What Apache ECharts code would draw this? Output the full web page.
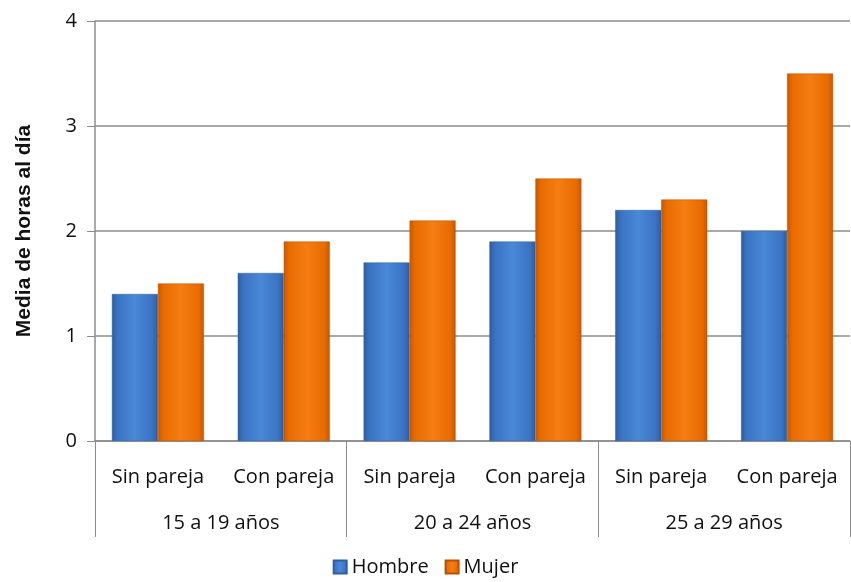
<!DOCTYPE html>
<html>
<head>
<meta charset="utf-8">
<script src="https://cdn.jsdelivr.net/npm/echarts@6/dist/echarts.min.js"></script>
<style>
  html, body { margin: 0; padding: 0; background: #fff; }
  #chart { width: 851px; height: 582px; }
</style>
</head>
<body>
<div id="chart"></div>
<script>
const categories = ['Sin pareja', 'Con pareja', 'Sin pareja', 'Con pareja', 'Sin pareja', 'Con pareja']
const groups = ['15 a 19 años', '20 a 24 años', '25 a 29 años']
const hombre = [1.4, 1.6, 1.7, 1.9, 2.2, 2.0]
const mujer = [1.5, 1.9, 2.1, 2.5, 2.3, 3.5]

const font = 'Open Sans'

// degradado horizontal para imitar el relieve de las barras
function barGradient(dark, mid, light) {
  return new echarts.graphic.LinearGradient(0, 0, 1, 0, [
    { offset: 0, color: dark },
    { offset: 0.12, color: mid },
    { offset: 0.5, color: light },
    { offset: 0.88, color: mid },
    { offset: 1, color: dark }
  ])
}

const chart = echarts.init(document.getElementById('chart'))
chart.setOption({
  animation: false,
  textStyle: { fontFamily: font },
  grid: { left: 95, right: 1, top: 21, bottom: 141 },
  legend: {
    bottom: 0,
    left: 'center',
    itemWidth: 13,
    itemHeight: 13,
    itemGap: 16,
    icon: 'rect',
    textStyle: { fontSize: 20, color: '#111', fontFamily: font },
    data: ['Hombre', 'Mujer']
  },
  xAxis: [
    {
      type: 'category',
      data: categories,
      axisLine: { lineStyle: { color: '#8c8c8c', width: 1.5 } },
      axisTick: { show: false },
      axisLabel: { fontSize: 20, color: '#111', margin: 26, interval: 0 }
    },
    {
      type: 'category',
      data: groups,
      position: 'bottom',
      axisLine: { show: false },
      axisTick: {
        show: true,
        length: 96,
        lineStyle: { color: '#8c8c8c' },
        interval: 0
      },
      axisLabel: { fontSize: 20, color: '#111', margin: 72 }
    }
  ],
  yAxis: {
    type: 'value',
    min: 0,
    max: 4,
    interval: 1,
    name: 'Media de horas al día',
    nameLocation: 'middle',
    nameGap: 60,
    nameTextStyle: { fontSize: 21, fontWeight: 'bold', color: '#111', fontFamily: 'Liberation Sans' },
    axisLine: { show: true, lineStyle: { color: '#8c8c8c', width: 1.5 } },
    axisTick: { show: true, length: 8, lineStyle: { color: '#8c8c8c' } },
    axisLabel: { fontSize: 20, color: '#111', margin: 18 },
    splitLine: { lineStyle: { color: '#8c8c8c', width: 1.5 } }
  },
  series: [
    {
      name: 'Hombre',
      type: 'bar',
      data: hombre,
      barWidth: 46,
      barGap: '0%',
      itemStyle: {
        color: barGradient('#2c5c9e', '#3a73c2', '#4a88d8'),
        borderColor: '#2e5f9f',
        borderWidth: 0.5
      }
    },
    {
      name: 'Mujer',
      type: 'bar',
      data: mujer,
      barWidth: 46,
      barGap: '0%',
      itemStyle: {
        color: barGradient('#c95800', '#e86c00', '#f57d12'),
        borderColor: '#b85000',
        borderWidth: 0.5
      }
    }
  ]
})
</script>
</body>
</html>
